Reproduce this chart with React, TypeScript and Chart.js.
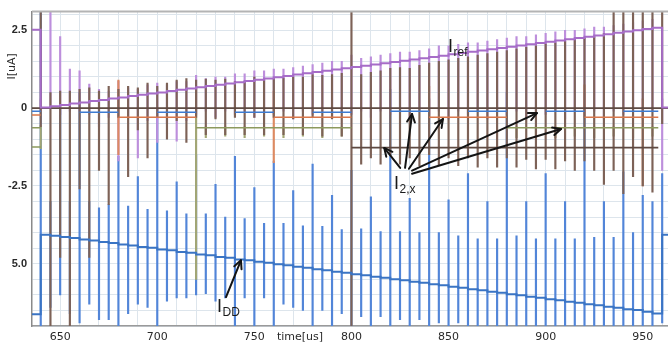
import React, { useEffect, useRef } from 'react';
import { Chart, registerables } from 'chart.js';

Chart.register(...registerables);

const X_MIN = 635.5;
const X_MAX = 963;
const Y_MIN = -7.0;
const Y_MAX = 3.1;

// sample instants (us)
const times = [640, 645, 650, 655, 660, 665, 670, 675, 680, 685, 690, 695, 700, 705, 710, 715, 720, 725, 730, 735,
  740, 745, 750, 755, 760, 765, 770, 775, 780, 785, 790, 795, 800, 805, 810, 815, 820, 825, 830, 835,
  840, 845, 850, 855, 860, 865, 870, 875, 880, 885, 890, 895, 900, 905, 910, 915, 920, 925, 930, 935,
  940, 945, 950, 955, 960];

// I_ref step levels (uA)
const irefStart = 2.52;
const irefLevel = [0.02, 0.06, 0.10, 0.15, 0.18, 0.23, 0.26, 0.31, 0.34, 0.39,
  0.43, 0.47, 0.50, 0.55, 0.59, 0.63, 0.67, 0.71, 0.75, 0.79,
  0.83, 0.87, 0.91, 0.95, 0.99, 1.03, 1.08, 1.12, 1.16, 1.20,
  1.24, 1.28, 1.32, 1.36, 1.40, 1.44, 1.48, 1.52, 1.56, 1.60,
  1.64, 1.68, 1.73, 1.77, 1.81, 1.85, 1.89, 1.93, 1.97, 2.01,
  2.05, 2.09, 2.13, 2.17, 2.21, 2.25, 2.29, 2.33, 2.37, 2.42,
  2.46, 2.50, 2.54, 2.58, 0.02];

// I_DD step levels (uA)
const iddStart = -6.62;
const iddLevel = [-4.07, -4.10, -4.14, -4.17, -4.22, -4.25, -4.30, -4.33, -4.38, -4.41,
  -4.46, -4.49, -4.54, -4.57, -4.62, -4.65, -4.70, -4.73, -4.78, -4.81,
  -4.86, -4.89, -4.94, -4.97, -5.02, -5.05, -5.10, -5.13, -5.18, -5.21,
  -5.26, -5.29, -5.34, -5.37, -5.42, -5.45, -5.50, -5.53, -5.58, -5.61,
  -5.66, -5.69, -5.74, -5.77, -5.82, -5.85, -5.90, -5.93, -5.98, -6.01,
  -6.06, -6.09, -6.14, -6.17, -6.22, -6.25, -6.30, -6.33, -6.38, -6.41,
  -6.46, -6.49, -6.54, -6.60, -4.07];

// switching spikes: top / bottom of each vertical glitch
const blueHi = [3.2, -3.0, 0.0, -3.0, 0.5, -3.0, -3.2, -3.1, -1.55, -3.15,
  -2.2, -3.25, 0.0, -3.3, -2.37, -3.4, -1.5, -3.4, -2.45, -3.5,
  -1.55, -3.55, -2.55, -3.7, -1.7, -3.7, -2.65, -3.78, -1.8, -3.8,
  -2.8, -3.9, -2.0, -3.88, -2.85, -3.97, 0.6, -3.97, -2.9, -4.0,
  0.3, -4.0, -2.95, -4.1, -2.1, -4.2, -3.0, -4.2, 0.5, -4.1,
  -3.0, -4.2, -2.1, -4.2, -3.0, -4.2, 0.5, -4.15, -3.0, -4.15,
  -2.05, -4.0, -2.8, -3.0, -2.1];
const blueLo = [-7.1, -6.4, -6.0, -6.6, -6.9, -6.3, -6.8, -6.8, -7.1, -6.6,
  -6.3, -6.4, -7.1, -6.2, -6.1, -6.1, -6.0, -5.96, -6.2, -6.1,
  -7.1, -6.1, -7.1, -6.1, -7.1, -6.3, -6.4, -6.5, -7.1, -6.5,
  -7.1, -6.6, -7.1, -6.7, -7.1, -6.7, -7.1, -6.8, -7.1, -6.8,
  -7.1, -6.9, -7.1, -6.9, -7.1, -7.1, -7.1, -7.1, -7.1, -7.1,
  -7.1, -7.1, -7.1, -7.1, -7.1, -7.1, -7.1, -7.1, -7.1, -7.1,
  -7.1, -7.1, -7.1, -7.1, -6.9];

const brownHi = [3.2, 0.5, 0.55, 0.55, 0.6, 0.65, 0.55, 0.7, 0.6, 0.7,
  0.65, 0.8, 0.7, 0.8, 0.9, 0.95, 0.9, 0.93, 0.9, 0.93,
  0.86, 0.86, 1.0, 0.93, 0.95, 0.96, 1.0, 1.0, 1.08, 1.05,
  1.08, 1.12, 3.2, 1.08, 1.15, 1.2, 1.28, 1.3, 1.28, 1.37,
  1.45, 1.5, 1.55, 1.6, 1.65, 1.7, 1.75, 1.8, 1.85, 1.9,
  1.95, 2.0, 2.05, 2.1, 2.15, 2.2, 2.25, 2.3, 2.4, 3.2,
  3.2, 3.2, 3.2, 3.2, 3.2];
const brownLo = [-0.6, -7.1, -4.8, -7.1, -2.6, -4.8, -2.0, -3.1, -0.3, -2.2,
  -0.7, -1.6, -0.3, -1.0, -0.4, -1.1, -0.3, -0.85, -0.35, -0.85,
  -0.3, -0.85, -0.3, -0.85, -0.3, -0.85, -0.35, -0.85, -0.3, -0.9,
  -0.35, -0.9, -7.1, -1.8, -1.6, -1.8, -1.5, -1.8, -1.6, -1.85,
  -1.5, -1.85, -1.6, -1.85, -1.6, -1.9, -1.6, -1.9, -1.6, -1.9,
  -1.65, -1.95, -1.65, -1.95, -1.7, -2.0, -1.7, -2.0, -2.45, -2.0,
  -2.75, -2.2, -2.5, -2.7, -0.5];

const purpleHi = [0.3, 3.2, 2.3, 1.25, 1.2, 0.77, 0.6, 0.55, 0.87, 0.65,
  0.6, 0.75, 0.8, 0.75, 0.85, 0.85, 1.05, 0.95, 1.0, 1.0,
  1.1, 1.1, 1.2, 1.2, 1.25, 1.25, 1.3, 1.35, 1.4, 1.45,
  1.5, 1.5, 1.7, 1.6, 1.65, 1.7, 1.75, 1.8, 1.8, 1.85,
  1.9, 2.0, 2.0, 2.05, 2.1, 2.1, 2.15, 2.2, 2.25, 2.3,
  2.3, 2.35, 2.4, 2.45, 2.5, 2.5, 2.55, 2.6, 2.6, 2.65,
  2.7, 2.75, 2.8, 2.85, 0.3];
const purpleLo = [-0.1, 0.1, -0.2, -0.1, -0.1, -0.2, -0.6, -0.3, -1.7, -0.3,
  -1.6, -0.4, -1.1, -0.5, -1.06, -0.4, -0.2, -0.1, -0.3, -0.1,
  -0.2, -0.1, -0.3, -0.1, -0.2, -0.1, -0.35, -0.1, -0.2, -0.1,
  -0.3, -0.1, -0.2, -0.1, -0.3, -0.1, -0.2, -0.1, -0.35, -0.1,
  -0.2, -0.1, -0.35, -0.1, -0.2, -0.1, -0.35, -0.1, -0.2, -0.1,
  -0.35, -0.1, -0.2, -0.1, -0.35, -0.1, -0.2, -0.1, -0.35, -0.1,
  -0.2, -0.1, -0.35, -0.1, -2.0];

const oliveSpikeT = [640, 720, 725, 735, 745, 755, 765, 775, 785, 795, 885, 895, 905, 915, 925, 935, 945, 955];
const oliveSpikeHi = [-0.55, 0.7, -0.6, -0.6, -0.6, -0.6, -0.6, -0.6, -0.6, -0.6, -0.6, -0.6, -0.6, -0.6, -0.6, -0.6, -0.6, -0.6];
const oliveSpikeLo = [-1.3, -5.5, -0.95, -0.9, -0.95, -0.9, -0.95, -0.9, -0.95, -0.9, -0.95, -0.9, -0.95, -0.9, -0.95, -0.9, -0.95, -0.9];

const orangeSpikeT = [680, 760, 840, 920, 950];
const orangeSpikeHi = [0.9, 0.55, 0.7, 0.75, 0.3];
const orangeSpikeLo = [-1.5, -1.75, -0.3, -0.3, -2.5];

// I_2,x horizontal traces (start, end, level)
const orangeSegStart = [635.5, 680, 760, 840, 920];
const orangeSegEnd = [640, 720, 800, 880, 958];
const orangeSegVal = [-0.22, -0.29, -0.29, -0.29, -0.29];
const blueSegStart = [635.5, 660, 700, 740, 780, 820, 860, 900, 940];
const blueSegEnd = [640, 680, 720, 760, 800, 840, 880, 920, 958];
const blueSegVal = [-0.1, -0.13, -0.13, -0.13, -0.13, -0.1, -0.1, -0.1, -0.1];
const oliveSegStart = [635.5, 635.5, 720, 880];
const oliveSegEnd = [640, 640, 800, 958];
const oliveSegVal = [-0.63, -1.25, -0.63, -0.63];
const brownSegStart = [635.5, 800];
const brownSegEnd = [963, 958];
const brownSegVal = [0, -1.27];

// annotations (data units)
const arrowFromT = [825.1, 827.6, 829.6, 831.2, 831.2, 735.4];
const arrowFromV = [-1.92, -1.92, -1.95, -2.01, -2.11, -6.07];
const arrowToT = [816.9, 831.2, 847.1, 895.5, 907.9, 743.1];
const arrowToV = [-1.28, -0.19, -0.35, -0.16, -0.67, -4.89];
const labelSub = ['ref', '2,x', 'DD'];
const labelT = [849.7, 821.9, 730.8];
const labelV = [1.79, -2.59, -6.55];

const GRID = '#dde5ec';

function stepData(start: number, levels: number[]) {
  const d: any[] = [{ x: X_MIN, y: start }];
  times.forEach((t, i) => d.push({ x: t, y: levels[i] }));
  d.push({ x: X_MAX, y: levels[levels.length - 1] });
  return d;
}
function segData(starts: number[], ends: number[], vals: number[]) {
  const d: any[] = [];
  starts.forEach((s, i) => {
    d.push({ x: s, y: vals[i] }, { x: ends[i], y: vals[i] }, { x: ends[i], y: null });
  });
  return d;
}
function spikeData(ts: number[], lo: number[], hi: number[]) {
  return ts.map((t, i) => ({ x: t, y: [lo[i], hi[i]] }));
}
function spikeSet(data: any[], color: string, order: number, thick = 1.5) {
  return {
    type: 'bar', data, backgroundColor: color, borderWidth: 0, barThickness: thick,
    grouped: false, order,
  };
}
function lineSet(data: any[], color: string, width: number, order: number, stepped: boolean) {
  return {
    type: 'line', data, borderColor: color, borderWidth: width, pointRadius: 0,
    stepped, spanGaps: false, fill: false, order, tension: 0,
  };
}

const overlayPlugin = {
  id: 'overlay',
  afterDatasetsDraw(chart: any) {
    const { ctx, chartArea: a, scales } = chart;
    const xs = scales.x;
    const ys = scales.y;
    ctx.save();
    ctx.strokeStyle = '#b4b4b4';
    ctx.lineWidth = 2;
    ctx.beginPath();
    ctx.moveTo(a.left, a.top);
    ctx.lineTo(a.right, a.top);
    ctx.stroke();

    ctx.strokeStyle = '#141414';
    ctx.lineWidth = 2;
    ctx.lineCap = 'round';
    ctx.lineJoin = 'round';
    for (let i = 0; i < arrowFromT.length; i++) {
      const x0 = xs.getPixelForValue(arrowFromT[i]);
      const y0 = ys.getPixelForValue(arrowFromV[i]);
      const x1 = xs.getPixelForValue(arrowToT[i]);
      const y1 = ys.getPixelForValue(arrowToV[i]);
      ctx.beginPath();
      ctx.moveTo(x0, y0);
      ctx.lineTo(x1, y1);
      ctx.stroke();
      const ang = Math.atan2(y1 - y0, x1 - x0);
      const L = 9;
      const sp = 0.45;
      ctx.beginPath();
      ctx.moveTo(x1 - L * Math.cos(ang - sp), y1 - L * Math.sin(ang - sp));
      ctx.lineTo(x1, y1);
      ctx.lineTo(x1 - L * Math.cos(ang + sp), y1 - L * Math.sin(ang + sp));
      ctx.stroke();
    }

    ctx.fillStyle = '#1a1a1a';
    ctx.textAlign = 'left';
    ctx.textBaseline = 'alphabetic';
    for (let i = 0; i < labelSub.length; i++) {
      const x = xs.getPixelForValue(labelT[i]);
      const y = ys.getPixelForValue(labelV[i]);
      ctx.font = '18px "Liberation Sans"';
      ctx.fillText('I', x, y);
      const w = ctx.measureText('I').width;
      ctx.font = '12px "Liberation Sans"';
      ctx.fillText(labelSub[i], x + w + 0.5, y + 4);
    }

    // axis captions
    ctx.fillStyle = '#2a2a2a';
    ctx.font = '11px "DejaVu Sans"';
    ctx.textAlign = 'center';
    ctx.textBaseline = 'middle';
    ctx.fillText('time[us]', xs.getPixelForValue(773.5), a.bottom + 11);
    ctx.save();
    ctx.translate(12, ys.getPixelForValue(1.34));
    ctx.rotate(-Math.PI / 2);
    ctx.fillText('I[uA]', 0, 0);
    ctx.restore();
    ctx.restore();
  },
};

export default function App() {
  const ref = useRef<HTMLCanvasElement>(null);
  useEffect(() => {
    if (!ref.current) return;
    const datasets: any[] = [
      spikeSet(spikeData(times, blueLo, blueHi), '#5285d8', 20),
      spikeSet(spikeData(times, purpleLo, purpleHi), '#bd8fdc', 18),
      spikeSet(spikeData(oliveSpikeT, oliveSpikeLo, oliveSpikeHi), '#a2a674', 17),
      spikeSet(spikeData(orangeSpikeT, orangeSpikeLo, orangeSpikeHi), '#dc8a62', 16),
      spikeSet(spikeData(times, brownLo, brownHi), '#7d6257', 15),
      lineSet(segData(oliveSegStart, oliveSegEnd, oliveSegVal), '#8c9a5e', 1.5, 12, false),
      lineSet(segData(orangeSegStart, orangeSegEnd, orangeSegVal), '#d9774a', 1.5, 11, false),
      lineSet(segData(blueSegStart, blueSegEnd, blueSegVal), '#3d7bd1', 1.5, 10, false),
      lineSet(segData(brownSegStart, brownSegEnd, brownSegVal), '#5e4a42', 1.6, 9, false),
      lineSet(stepData(iddStart, iddLevel), '#3a74c4', 2, 2, true),
      lineSet(stepData(irefStart, irefLevel), '#a66cc8', 2, 1, true),
    ];
    const chart = new Chart(ref.current, {
      type: 'line',
      data: { datasets },
      options: {
        animation: false,
        responsive: false,
        devicePixelRatio: 1,
        layout: { padding: { top: 10, left: 0, right: 0, bottom: 0 } },
        plugins: { legend: { display: false }, tooltip: { enabled: false } },
        elements: { point: { radius: 0 } },
        scales: {
          x: {
            type: 'linear', min: X_MIN, max: X_MAX, offset: false,
            afterFit: (s: any) => { s.height = 19; },
            grid: { color: GRID, drawTicks: false, offset: false, lineWidth: 1 },
            border: { display: true, color: '#9a9a9a', width: 1.5 },
            ticks: {
              stepSize: 10, autoSkip: false, maxRotation: 0, minRotation: 0, includeBounds: false,
              padding: 5, color: '#2a2a2a', font: { family: 'DejaVu Sans', size: 11 },
              callback: (v: any) => {
                const n = Math.round(Number(v));
                return n % 50 === 0 && n >= 650 && n <= 950 && Math.abs(n - Number(v)) < 0.01 ? String(n) : '';
              },
            },
          },
          y: {
            type: 'linear', min: Y_MIN, max: Y_MAX,
            afterFit: (s: any) => { s.width = 32; },
            grid: { color: GRID, drawTicks: false, lineWidth: 1 },
            border: { display: true, color: '#8a8a8a', width: 1.5 },
            ticks: {
              stepSize: 0.5, autoSkip: false, includeBounds: false, padding: 5,
              color: '#2a2a2a', font: { family: 'Liberation Sans', size: 11, weight: 'bold' },
              callback: (v: any) => {
                const k = Math.round(Number(v) * 10);
                if (k === 25) return '2.5';
                if (k === 0) return '0';
                if (k === -25) return '-2.5';
                if (k === -50) return '5.0';
                return '';
              },
            },
          },
        },
      } as any,
      plugins: [overlayPlugin],
    });
    return () => chart.destroy();
  }, []);
  return (
    <div style={{ position: 'fixed', left: 0, top: 0, width: 668, height: 345, background: '#fff' }}>
      <canvas ref={ref} width={668} height={345} style={{ display: 'block' }} />
    </div>
  );
}
